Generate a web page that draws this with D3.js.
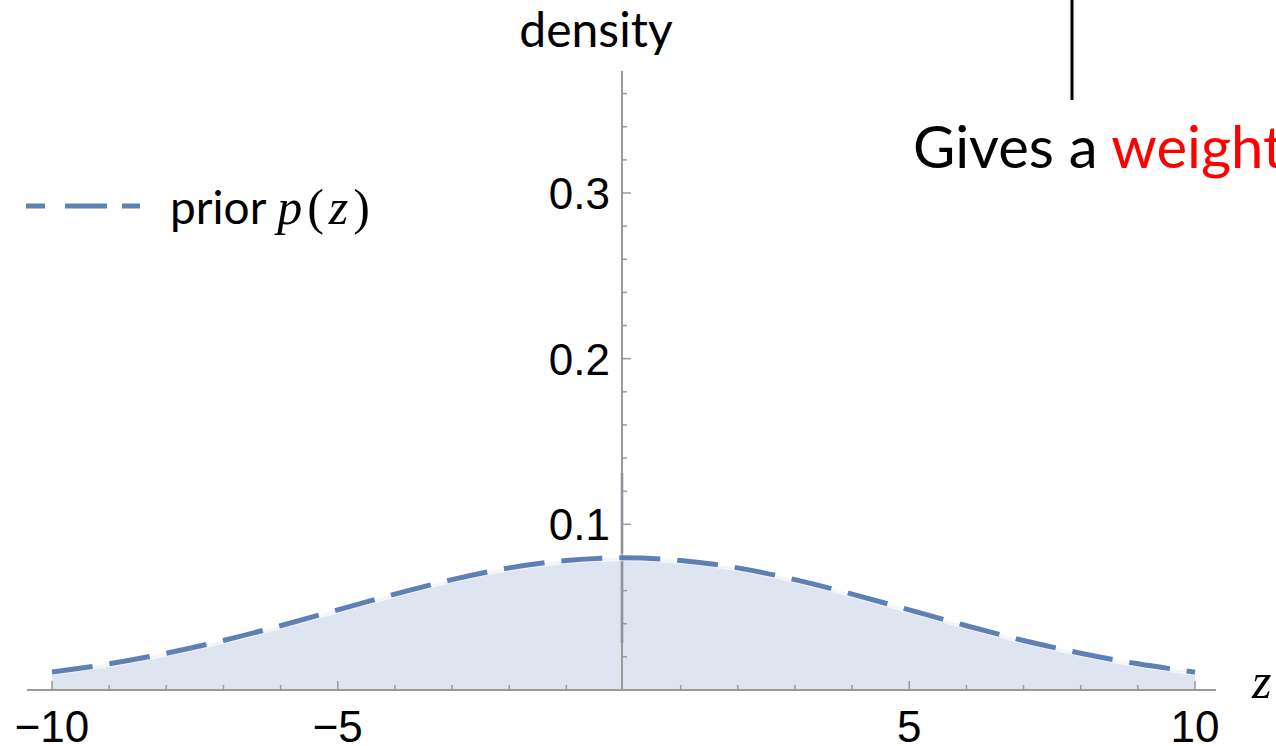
<!DOCTYPE html>
<html>
<head>
<meta charset="utf-8">
<script src="https://cdn.jsdelivr.net/npm/d3@7"></script>
<style>
  body { margin: 0; background: #fff; overflow: hidden; }
  svg { display: block; }
</style>
</head>
<body>
<div id="viz"></div>
<script>
// values
const zValues = [-10, -9, -8, -7, -6, -5, -4, -3, -2, -1, 0, 1, 2, 3, 4, 5, 6, 7, 8, 9, 10];
const densityValues = [0.0108, 0.0158, 0.0222, 0.0299, 0.0388, 0.0484, 0.0579, 0.0666, 0.0737, 0.0782, 0.0798,
  0.0782, 0.0737, 0.0666, 0.0579, 0.0484, 0.0388, 0.0299, 0.0222, 0.0158, 0.0108];
const xTickLabels = [-10, -5, 5, 10];
const yTickLabels = [0.1, 0.2, 0.3];
const legendLabel = 'prior';

const W = 1276, H = 746;
const blue = '#5e81b5';
const axisGray = '#9a9a9a';

const svg = d3.select('#viz').append('svg')
  .attr('width', W).attr('height', H);

const x = d3.scaleLinear().domain([-10, 10]).range([52, 1195]);
const y = d3.scaleLinear().domain([0, 0.3]).range([690, 193]);

const pts = zValues.map((z, i) => ({z, d: densityValues[i]}));

// filled area under the prior
const area = d3.area()
  .x(d => x(d.z)).y0(y(0)).y1(d => y(d.d))
  .curve(d3.curveNatural);
svg.append('path').datum(pts)
  .attr('d', area)
  .attr('fill', '#dfe5f0');

// axes
const xAxisY = y(0);
const yAxisX = 622;
svg.append('line')
  .attr('x1', 27).attr('x2', 1216)
  .attr('y1', xAxisY).attr('y2', xAxisY)
  .attr('stroke', axisGray).attr('stroke-width', 2);
svg.append('line')
  .attr('x1', yAxisX).attr('x2', yAxisX)
  .attr('y1', 71).attr('y2', xAxisY)
  .attr('stroke', axisGray).attr('stroke-width', 2);

// darker segment seen on the y axis
svg.append('line')
  .attr('x1', yAxisX).attr('x2', yAxisX)
  .attr('y1', 473).attr('y2', 643)
  .attr('stroke', '#8a8f99').attr('stroke-width', 3).attr('opacity', 0.6);

// x ticks (every 1, pointing up)
d3.range(-10, 11).forEach(t => {
  if (t === 0) return;
  const major = t % 5 === 0;
  svg.append('line')
    .attr('x1', x(t)).attr('x2', x(t))
    .attr('y1', xAxisY).attr('y2', xAxisY - (major ? 9 : 5))
    .attr('stroke', axisGray).attr('stroke-width', 1.5);
});

// y ticks (every 0.02, pointing right)
d3.range(1, 19).forEach(i => {
  const v = i * 0.02;
  const major = i % 5 === 0;
  svg.append('line')
    .attr('x1', yAxisX).attr('x2', yAxisX + (major ? 9 : 5))
    .attr('y1', y(v)).attr('y2', y(v))
    .attr('stroke', axisGray).attr('stroke-width', 1.5);
});

// tick labels
svg.selectAll('.xl').data(xTickLabels).enter().append('text')
  .attr('x', d => x(d)).attr('y', 742)
  .attr('text-anchor', 'middle')
  .attr('font-family', 'Liberation Sans, Arial, sans-serif')
  .attr('font-size', 44)
  .text(d => d < 0 ? '\u2212' + Math.abs(d) : d);

svg.selectAll('.yl').data(yTickLabels).enter().append('text')
  .attr('x', 610).attr('y', d => y(d) + 16)
  .attr('text-anchor', 'end')
  .attr('font-family', 'Liberation Sans, Arial, sans-serif')
  .attr('font-size', 44)
  .text(d => d.toFixed(1));

// axis titles
svg.append('text')
  .attr('x', 596).attr('y', 47)
  .attr('text-anchor', 'middle')
  .attr('font-family', 'Lato, sans-serif')
  .attr('font-size', 48)
  .text('density');

svg.append('text')
  .attr('x', 1252).attr('y', 698)
  .attr('font-family', 'Liberation Serif, serif')
  .attr('font-style', 'italic')
  .attr('font-size', 50)
  .text('z');

// dashed prior curve
const line = d3.line()
  .x(d => x(d.z)).y(d => y(d.d))
  .curve(d3.curveNatural);
svg.append('path').datum(pts)
  .attr('d', line)
  .attr('fill', 'none')
  .attr('stroke', '#ffffff')
  .attr('stroke-width', 7)
  .attr('opacity', 0.6);
svg.append('path').datum(pts)
  .attr('d', line)
  .attr('fill', 'none')
  .attr('stroke', blue)
  .attr('stroke-width', 5)
  .attr('stroke-dasharray', '41,17');

// legend
svg.append('line')
  .attr('x1', 26).attr('x2', 140)
  .attr('y1', 206).attr('y2', 206)
  .attr('stroke', blue).attr('stroke-width', 5)
  .attr('stroke-dasharray', '19,20,42,15,19');
const leg = svg.append('text')
  .attr('x', 170).attr('y', 224)
  .attr('font-size', 46);
leg.append('tspan')
  .attr('font-family', 'Lato, sans-serif')
  .text(legendLabel + ' ');
const serif = 'Liberation Serif, serif';
const math = leg.append('tspan').attr('font-family', serif).attr('font-size', 50)
  .attr('letter-spacing', 5);
math.append('tspan').attr('font-style', 'italic').text('p');
math.append('tspan').text('(');
math.append('tspan').attr('font-style', 'italic').text('z');
math.append('tspan').text(')');

// annotation from the slide
svg.append('line')
  .attr('x1', 1072).attr('x2', 1072)
  .attr('y1', 0).attr('y2', 100)
  .attr('stroke', '#000').attr('stroke-width', 3);
const note = svg.append('text')
  .attr('x', 913).attr('y', 168)
  .attr('font-family', 'Lato, sans-serif')
  .attr('font-size', 58);
note.append('tspan').attr('fill', '#000').text('Gives a ');
note.append('tspan').attr('fill', '#ff0000').text('weight');
</script>
</body>
</html>
